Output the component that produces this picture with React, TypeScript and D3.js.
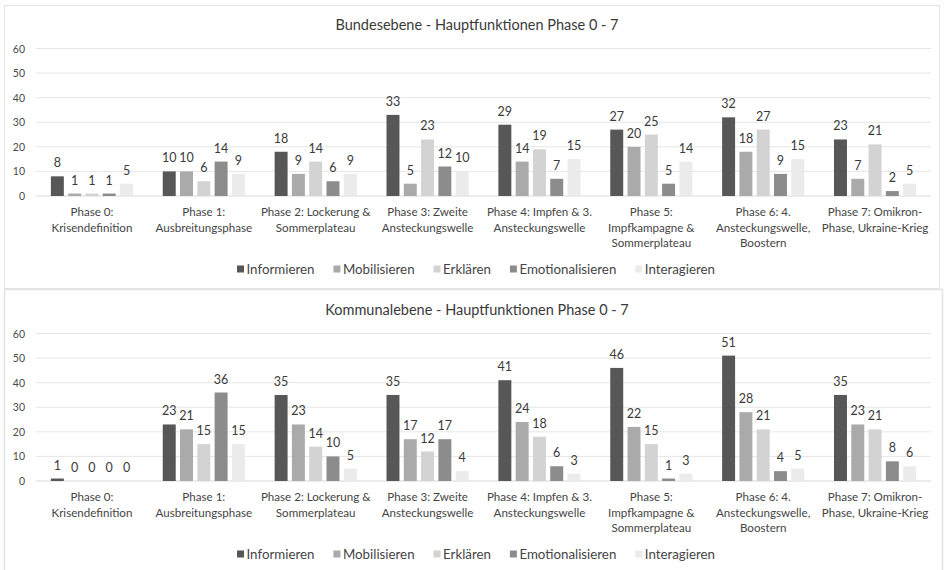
import React from "react";
import * as d3 from "d3";

const categories: string[][] = [
  ["Phase 0:", "Krisendefinition"],
  ["Phase 1:", "Ausbreitungsphase"],
  ["Phase 2: Lockerung &", "Sommerplateau"],
  ["Phase 3: Zweite", "Ansteckungswelle"],
  ["Phase 4: Impfen & 3.", "Ansteckungswelle"],
  ["Phase 5:", "Impfkampagne &", "Sommerplateau"],
  ["Phase 6: 4.", "Ansteckungswelle,", "Boostern"],
  ["Phase 7: Omikron-", "Phase, Ukraine-Krieg"],
];

const seriesNames = ["Informieren", "Mobilisieren", "Erklären", "Emotionalisieren", "Interagieren"];
const seriesColors = ["#575757", "#aaaaaa", "#d3d3d3", "#8c8c8c", "#ebebeb"];

// Bundesebene values per series across phases 0..7
const bundInformieren = [8, 10, 18, 33, 29, 27, 32, 23];
const bundMobilisieren = [1, 10, 9, 5, 14, 20, 18, 7];
const bundErklaeren = [1, 6, 14, 23, 19, 25, 27, 21];
const bundEmotionalisieren = [1, 14, 6, 12, 7, 5, 9, 2];
const bundInteragieren = [5, 9, 9, 10, 15, 14, 15, 5];

// Kommunalebene values
const kommInformieren = [1, 23, 35, 35, 41, 46, 51, 35];
const kommMobilisieren = [0, 21, 23, 17, 24, 22, 28, 23];
const kommErklaeren = [0, 15, 14, 12, 18, 15, 21, 21];
const kommEmotionalisieren = [0, 36, 10, 17, 6, 1, 4, 8];
const kommInteragieren = [0, 15, 5, 4, 3, 3, 5, 6];

const yTicks = [0, 10, 20, 30, 40, 50, 60];

const titles = ["Bundesebene - Hauptfunktionen Phase 0 - 7", "Kommunalebene - Hauptfunktionen Phase 0 - 7"];

const panelsData = [
  [bundInformieren, bundMobilisieren, bundErklaeren, bundEmotionalisieren, bundInteragieren],
  [kommInformieren, kommMobilisieren, kommErklaeren, kommEmotionalisieren, kommInteragieren],
];

const FONT = "Lato, 'Open Sans', sans-serif";

function measure(text: string, size: number): number {
  if (typeof document === "undefined") return text.length * size * 0.5;
  const c = document.createElement("canvas");
  const ctx = c.getContext("2d");
  if (!ctx) return text.length * size * 0.5;
  ctx.font = `${size}px Lato`;
  return ctx.measureText(text).width;
}

function Panel({ data, title, offsetY }: { data: number[][]; title: string; offsetY: number }) {
  const left = 36;
  const right = 931;
  const x0 = d3.scaleBand<number>().domain(d3.range(categories.length)).range([left, right]).padding(0);
  const x1 = d3
    .scaleBand<number>()
    .domain(d3.range(seriesNames.length))
    .range([0, x0.bandwidth()])
    .paddingInner(0.25)
    .paddingOuter(0.86);
  const y = d3.scaleLinear().domain([0, 60]).range([196, 48.5]);

  const legendSize = 13.3;
  const widths = seriesNames.map((s) => measure(s, legendSize));
  const sq = 7;
  const gapSqText = 2.5;
  const itemGap = 19;
  const total = widths.reduce((a, w) => a + sq + gapSqText + w, 0) + itemGap * (seriesNames.length - 1);
  let cursor = 476 - total / 2;
  const legendItems = seriesNames.map((s, i) => {
    const xi = cursor;
    cursor += sq + gapSqText + widths[i] + itemGap;
    return { s, x: xi, color: seriesColors[i] };
  });

  return (
    <g transform={`translate(0,${offsetY})`}>
      <text x={477} y={30} textAnchor="middle" fontSize={14.5} fill="#3a3a3a" fontFamily={FONT}>
        {title}
      </text>
      {yTicks.map((t) => (
        <g key={t}>
          <line x1={left} x2={right} y1={y(t)} y2={y(t)} stroke={t === 0 ? "#d9d9d9" : "#e6e6e6"} strokeWidth={1} />
          <text x={25} y={y(t) + 4} textAnchor="end" fontSize={10.5} fill="#4a4a4a" fontFamily={FONT}>
            {t}
          </text>
        </g>
      ))}
      {categories.map((cat, ci) => (
        <g key={ci}>
          {data.map((series, si) => {
            const v = series[ci];
            const bx = (x0(ci) as number) + (x1(si) as number);
            const bw = x1.bandwidth();
            return (
              <g key={si}>
                {v > 0 && (
                  <rect x={bx} y={y(v)} width={bw} height={y(0) - y(v)} fill={seriesColors[si]} />
                )}
                <text
                  x={bx + bw / 2}
                  y={y(v) - 9}
                  textAnchor="middle"
                  fontSize={12.5}
                  fill="#3a3a3a"
                  fontFamily={FONT}
                >
                  {v}
                </text>
              </g>
            );
          })}
          <text
            x={(x0(ci) as number) + x0.bandwidth() / 2}
            y={216}
            textAnchor="middle"
            fontSize={11.6}
            fill="#454545"
            fontFamily={FONT}
          >
            {cat.map((line, li) => (
              <tspan key={li} x={(x0(ci) as number) + x0.bandwidth() / 2} dy={li === 0 ? 0 : 15.5}>
                {line}
              </tspan>
            ))}
          </text>
        </g>
      ))}
      {legendItems.map((it) => (
        <g key={it.s}>
          <rect x={it.x} y={265.5} width={sq} height={sq} fill={it.color} />
          <text x={it.x + sq + gapSqText} y={273.8} fontSize={legendSize} fill="#454545" fontFamily={FONT}>
            {it.s}
          </text>
        </g>
      ))}
    </g>
  );
}

export default function App() {
  return (
    <svg
      width={944}
      height={570}
      style={{ position: "absolute", left: 0, top: 0, background: "#ffffff" }}
    >
      <rect x={0} y={0} width={944} height={570} fill="#ffffff" />
      <rect x={4.5} y={5.5} width={935} height={283} fill="none" stroke="#e3e3e3" strokeWidth={1} />
      <rect x={4.5} y={289.5} width={938} height={290} fill="none" stroke="#e3e3e3" strokeWidth={1.5} />
      {panelsData.map((d, i) => (
        <Panel key={i} data={d} title={titles[i]} offsetY={i * 285} />
      ))}
    </svg>
  );
}
